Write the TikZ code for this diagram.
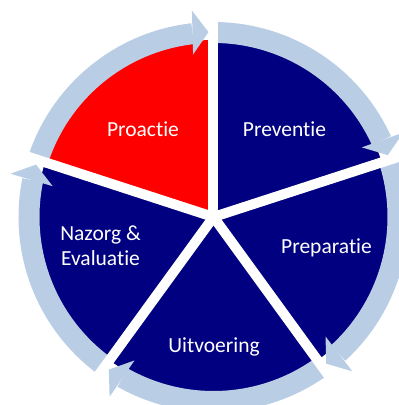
\documentclass[tikz,border=0pt]{standalone}
\usepackage{fontspec}
\setmainfont{Carlito}[Ligatures=NoCommon]
\definecolor{lightring}{RGB}{185,205,229}
\definecolor{navyseg}{RGB}{0,0,128}
\definecolor{redseg}{RGB}{255,0,0}
\begin{document}
\begin{tikzpicture}[x=1pt,y=1pt,
  band/.style={draw=lightring, line width=21pt},
  gapline/.style={draw=white, line width=10pt},
  head/.style={fill=lightring, draw=none},
  seglabel/.style={text=white, font=\fontsize{21.5}{25}\selectfont, anchor=base, inner sep=0pt}]
\useasboundingbox (-213.5,-188) rectangle (185.5,217);
\clip (-213.5,-188) rectangle (185.5,217);
\coordinate (c) at (0,0);
% wedges
\fill[redseg]  (c) -- (90:177)   arc[start angle=90,   end angle=162,  radius=177] -- cycle;
\fill[navyseg] (c) -- (18:177)   arc[start angle=18,   end angle=90,   radius=177] -- cycle;
\fill[navyseg] (c) -- (-54:177)  arc[start angle=-54,  end angle=18,   radius=177] -- cycle;
\fill[navyseg] (c) -- (-126:177) arc[start angle=-126, end angle=-54,  radius=177] -- cycle;
\fill[navyseg] (c) -- (162:177)  arc[start angle=162,  end angle=234,  radius=177] -- cycle;
% ring bands
\foreach \a in {90,18,-54,-126,162} {
  \draw[band] ({\a+72}:184.5) arc[start angle={\a+72}, end angle={\a+6.5}, radius=184.5];
}
% white gaps
\foreach \a in {90,18,-54,-126,162} {
  \draw[gapline] (c) -- (\a:220);
}
% arrow heads
\foreach \a in {90,18,-54,-126,162} {
  \pgfmathsetmacro{\p}{\a+1.55}
  \fill[head] (\p:185) -- ({207*cos(\p)-16*sin(\p)},{207*sin(\p)+16*cos(\p)})
     -- ({163*cos(\p)-16*sin(\p)},{163*sin(\p)+16*cos(\p)}) -- cycle;
}
% labels
\node[seglabel] (proactie)   at (-70.5,81)  {Proactie};
\node[seglabel] (preventie)  at (71,81)     {Preventie};
\node[seglabel] (preparatie) at (113,-36.3) {Preparatie};
\node[seglabel] (uitvoering) at (0.5,-135)  {Uitvoering};
\node[seglabel] (nazorg)     at (-113,-23)  {Nazorg \&};
\node[seglabel] (evaluatie)  at (-113,-48)  {Evaluatie};
\end{tikzpicture}
\end{document}
